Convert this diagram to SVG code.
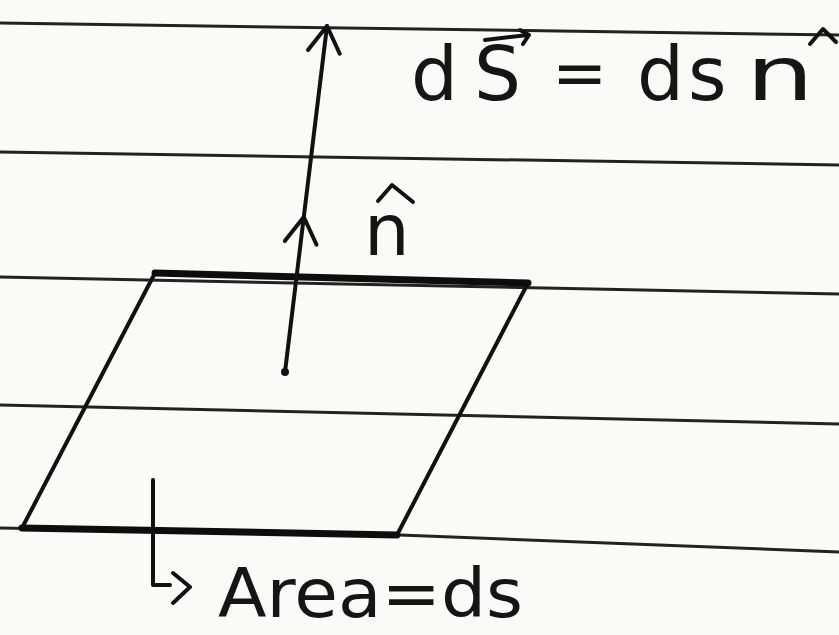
<svg xmlns="http://www.w3.org/2000/svg" width="839" height="635" viewBox="0 0 839 635">
  <style>
    .rule { fill: none; stroke: #222; stroke-width: 3; stroke-linecap: round; }
    .ink { fill: none; stroke: #111; stroke-width: 4; stroke-linecap: round; stroke-linejoin: round; }
    .bold { fill: none; stroke: #0d0d0d; stroke-width: 7; stroke-linecap: round; }
    .hand { font-family: "DejaVu Sans", "Liberation Sans", sans-serif; fill: #151515; }
  </style>
  <defs>
    <marker id="openArrow" markerUnits="userSpaceOnUse" markerWidth="40" markerHeight="40" viewBox="-30 -20 34 40" refX="0" refY="0" orient="auto">
      <path d="M-26,-16 L0,0 L-26,16" fill="none" stroke="#111" stroke-width="4" stroke-linecap="round" stroke-linejoin="round"/>
    </marker>
  </defs>

  <rect x="0" y="0" width="839" height="635" fill="#fafaf8"/>

  <g id="ruled-lines">
    <line class="rule" x1="0" y1="23" x2="839" y2="35"/>
    <line class="rule" x1="0" y1="152" x2="839" y2="165"/>
    <line class="rule" x1="0" y1="277" x2="839" y2="294"/>
    <line class="rule" x1="0" y1="405" x2="839" y2="424"/>
    <polyline class="rule" points="0,528 400,535 839,552"/>
  </g>

  <g id="surface">
    <line class="ink" x1="155" y1="273" x2="22" y2="528"/>
    <line class="ink" x1="528" y1="283" x2="397" y2="535"/>
    <line class="bold" x1="155" y1="273" x2="528" y2="283"/>
    <line class="bold" x1="22" y1="528" x2="397" y2="535"/>
    <circle cx="285" cy="372" r="4" fill="#111"/>
  </g>

  <g id="connectors">
    <path id="normal-vector" class="ink" d="M285,372 L303.8,217 L327,26" marker-mid="url(#openArrow)" marker-end="url(#openArrow)"/>
    <path id="area-pointer" class="ink" d="M153,480 L153,585 L170,585 M173,573 L190,587 L173,603"/>
  </g>

  <g id="label-nhat">
    <text class="hand" x="364" y="255" font-size="72">n</text>
    <polyline class="ink" points="378,201 392,185 413,202"/>
  </g>

  <g id="label-ds">
    <text class="hand" font-size="74" y="100"><tspan x="411">d</tspan><tspan x="474">S</tspan></text>
    <path class="ink" d="M485,40 L528,35 M520,30 L529,35 L523,44"/>
    <text class="hand" font-size="66" x="552" y="95">=</text>
    <text class="hand" font-size="74" y="100"><tspan x="637">d</tspan><tspan x="688">s</tspan></text>
    <text class="hand" font-size="74" x="746" y="100" textLength="68" lengthAdjust="spacingAndGlyphs">n</text>
    <polyline class="ink" points="810,44 823,29 836,42"/>
  </g>

  <g id="label-area">
    <text class="hand" x="218" y="617" font-size="68" textLength="305" lengthAdjust="spacingAndGlyphs">Area=ds</text>
  </g>
</svg>
